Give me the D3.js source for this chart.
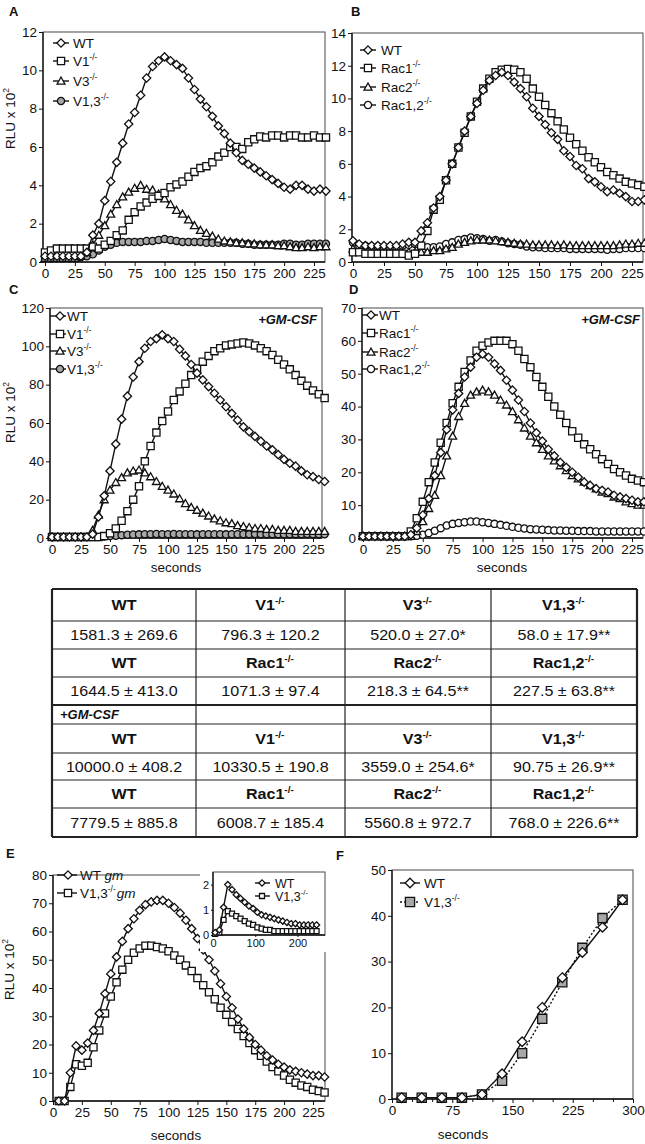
<!DOCTYPE html>
<html><head><meta charset="utf-8">
<script src="https://cdn.jsdelivr.net/npm/d3@7"></script>
<style>
body{margin:0;background:#fff}
svg{display:block}
text{font-family:Arial,"Liberation Sans",Helvetica,sans-serif;fill:#111}
</style>
</head><body>
<svg id="c" width="645" height="1144"></svg>
<script>
// ---------------- DATA ----------------
const secondsAD = [0,5,10,15,20,25,30,35,40,45,50,55,60,65,70,75,80,85,90,95,100,105,110,115,120,125,130,135,140,145,150,155,160,165,170,175,180,185,190,195,200,205,210,215,220,225,230,235];
const xTicks225 = [0,25,50,75,100,125,150,175,200,225];

const aWT  = [0.3,0.3,0.3,0.3,0.3,0.3,0.3,0.5, 1.4,2.0,3.2,4.2,5.2,6.2,7.2,7.8, 8.7,9.6,10.2,10.5,10.7,10.5,10.3,10.1, 9.6,9.0,8.5,8.1,7.6,7.1,6.7,6.2, 5.7,5.3,5.1,4.9,4.7,4.5,4.3,4.1, 3.9,3.8,4.0,4.0,3.8,3.7,3.8,3.7];
const aV1  = [0.5,0.6,0.7,0.7,0.7,0.7,0.7,0.7, 0.8,0.7,0.9,1.1,1.4,1.65,2.2,2.6, 2.9,3.1,3.3,3.45,3.6,3.9,4.05,4.2, 4.45,4.7,4.9,5.0,5.2,5.5,5.7,6.0, 6.0,5.9,6.25,6.4,6.55,6.5,6.6,6.6, 6.5,6.6,6.6,6.5,6.5,6.6,6.5,6.5];
const aV3  = [0.2,0.2,0.2,0.2,0.2,0.2,0.3,0.5, 0.9,1.4,1.9,2.5,3.0,3.4,3.65,3.85, 4.0,3.8,3.75,3.55,3.3,3.0,2.7,2.5, 2.2,1.9,1.65,1.5,1.35,1.2,1.1,1.05, 1.0,1.0,0.95,0.95,0.9,0.9,0.9,0.85, 0.85,0.8,0.75,0.75,0.8,0.75,0.8,0.8];
const aV13 = [0.2,0.2,0.2,0.2,0.2,0.2,0.25,0.3, 0.4,0.6,0.8,0.9,1.0,1.05,1.05,1.05, 1.05,1.1,1.1,1.15,1.2,1.15,1.1,1.05, 1.05,1.05,1.05,1.0,1.0,1.0,1.0,1.0, 1.0,0.95,0.95,0.9,0.9,0.9,0.9,0.9, 0.95,0.95,0.9,0.9,0.95,0.95,0.95,0.95];

const bWT   = [1.3,1.1,1.0,1.0,1.0,1.0,1.0,1.0, 1.1,1.2,1.2,1.9,2.4,3.3,4.0,5.0, 6.0,7.0,8.0,8.9,9.7,10.5,11.1,11.4, 11.6,11.4,11.0,10.6,10.1,9.4,8.9,8.4, 7.9,7.5,6.8,6.45,5.9,5.7,5.1,4.9, 4.6,4.3,4.4,4.2,4.0,3.7,3.7,3.8];
const bRac1 = [0.6,0.6,0.5,0.5,0.5,0.5,0.5,0.5, 0.5,0.4,0.5,1.0,1.9,3.2,3.8,5.0, 6.0,7.0,7.9,8.9,9.8,10.6,11.2,11.6, 11.75,11.8,11.75,11.6,11.2,10.6,10.1,9.6, 9.1,8.6,8.1,7.6,7.2,6.8,6.4,6.1, 5.8,5.5,5.3,5.1,4.9,4.8,4.7,4.6];
const bRac2 = [0.8,0.7,0.6,0.6,0.6,0.6,0.6,0.6, 0.6,0.6,0.6,0.6,0.6,0.7,0.7,0.8, 0.9,1.1,1.2,1.3,1.35,1.35,1.35,1.3, 1.25,1.2,1.15,1.1,1.1,1.05,1.05,1.05, 1.05,1.0,1.05,1.0,1.0,1.0,1.0,1.0, 1.0,1.0,1.0,1.05,1.1,1.1,1.15,1.15];
const bRac12= [1.2,1.0,1.0,0.95,0.95,0.9,0.9,0.9, 1.0,1.05,1.1,1.0,0.9,0.9,0.95,1.1, 1.2,1.35,1.4,1.5,1.45,1.4,1.3,1.35, 1.25,1.15,1.1,1.05,0.95,0.9,0.9,0.85, 0.85,0.85,0.85,0.8,0.8,0.8,0.8,0.8, 0.8,0.75,0.8,0.8,0.85,0.85,0.85,0.85];

const cWT  = [0.5,0.5,0.5,0.5,0.5,0.5,0.5,2, 11,22,35,49,62,74,84,92, 99,102.5,104,106,104,102.5,98.5,95, 90.5,86,82.5,79,75.5,72,68.5,65, 61.5,58,55.5,53,50.5,48,46,43.5, 41,39,37.5,35,33,32,30.5,29.5];
const cV1  = [0.5,0.5,0.5,0.5,0.5,0.5,0.5,0.5, 0.5,1,2.5,5,9,14,20,27, 40,48,55,61,66,72,76.5,80.5, 85,88.5,92,95,97.5,99,100.5,101, 101.5,102,101.5,100.5,99,97.5,95.5,93, 90.5,88,85,82,79.5,77,75,73];
const cV3  = [0.5,0.5,0.5,0.5,0.5,0.5,0.5,4, 12,20,25,29,31.5,34,35,35.5, 34,32,29.5,27,25,23,20.5,18, 16,14.5,13,11.5,10,9,8,7.5, 6.5,6,5.5,5,5,4.5,4.5,4, 4,4,3.5,3.5,3.5,3.5,3.5,3.5];
const cV13 = [0.5,0.5,0.5,0.5,0.5,0.5,0.5,0.5, 0.5,0.8,1,1.2,1.5,1.7,1.8,1.9, 2,2,2.1,2,2,2.1,2,2, 2,1.9,2,2,2,2,1.9,2, 2,2,2,2.1,2,2,2,2, 2,2,2,2,2.1,2,2,2];

const dWT   = [0.5,0.5,0.5,0.5,0.5,0.5,0.5,0.5, 1,3,7,12,19,26,33,39, 44,49,52,55,56,55,53,51, 48,45,42,38.5,35,32,29.5,27, 25,23,21.5,20,18.5,17,16,15, 14.5,14,13,12.5,12,11.5,11,11];
const dRac1 = [0.5,0.5,0.5,0.5,0.5,0.5,0.5,0.5, 2,6,11,17,23,29,35,41, 46,50.5,54,57,58.5,59.5,60,60, 60,59,57,54.5,52,49,46,43, 40,37.5,35,32.5,30.5,28.5,27,25.5, 24,22.5,21,20,19,18,17.5,17];
const dRac2 = [0.5,0.5,0.5,0.5,0.5,0.5,0.5,0.5, 0.5,2,5,9,13,19,25,31, 37,41,43.5,44.5,45,44.5,43.5,42, 40.5,38.5,36,33.5,31,29,27,25, 23.5,22,20.5,19,18,17,16,15, 14,13.5,12.5,12,11,10.5,10,10];
const dRac12= [0.5,0.5,0.5,0.5,0.5,0.5,0.5,0.5, 0.5,0.7,1,1.5,2.2,3,3.8,4.3, 4.6,4.8,5,5,4.8,4.6,4.3,4, 3.7,3.4,3.1,2.9,2.7,2.6,2.5,2.4, 2.3,2.3,2.2,2.2,2.1,2.1,2.1,2, 2,2,2,2,2,2,2,2];

const secondsE = [5,10,15,20,25,30,35,40,45,50,55,60,65,70,75,80,85,90,95,100,105,110,115,120,125,130,135,140,145,150,155,160,165,170,175,180,185,190,195,200,205,210,215,220,225,230,235];
const eWTgm  = [0,0,10,19.5,18,20.5,25,31, 38,45,51,56.5,61,64.5,67.5,69.5, 70.5,71,71,70,68.5,66.5,64,61, 57.5,53.5,50,46,41.5,37,33,29, 25.5,22.5,20,18,16,14.5,13,12, 11,10.5,10,9.5,9,9,8.5];
const eV13gm = [0,0,5,13,12.5,13.5,19,25, 31,37,42,46.5,50,52.5,54,55, 55,54.5,54,53,51.5,50,48,46, 43.5,41,38.5,36,33,30.5,28,25.5, 23,20.5,18,16,14,12,10.5,9, 7.5,6.5,5.5,5,4,3.5,3];

const secondsInset = [5,15,25,35,45,55,65,75,85,95,105,115,125,135,145,155,165,175,185,195,205,215,225,235,245];
const insetWT  = [0.1,0.2,1.1,2.0,1.8,1.6,1.45,1.3,1.15,1.05,0.9,0.8,0.75,0.7,0.65,0.6,0.55,0.5,0.45,0.45,0.4,0.4,0.4,0.4,0.4];
const insetV13 = [0.05,0.1,0.6,0.95,0.85,0.75,0.65,0.55,0.45,0.4,0.3,0.25,0.2,0.2,0.15,0.15,0.15,0.15,0.15,0.15,0.15,0.15,0.15,0.15,0.15];

const secondsF = [12,37,62,87,112,137,162,187,212,237,262,287];
const fWT  = [0.3,0.3,0.3,0.3,1.0,5.5,12.5,20,26.5,32,37.5,43.5];
const fV13 = [0.3,0.3,0.3,0.3,1.0,4,10,17.5,25.5,33,39.5,43.5];

const tableHeadV   = ["WT","V1^-/-","V3^-/-","V1,3^-/-"];
const tableHeadRac = ["WT","Rac1^-/-","Rac2^-/-","Rac1,2^-/-"];
const restV    = ["1581.3 ± 269.6","796.3 ± 120.2","520.0 ± 27.0*","58.0 ± 17.9**"];
const restRac  = ["1644.5 ± 413.0","1071.3 ± 97.4","218.3 ± 64.5**","227.5 ± 63.8**"];
const gmV      = ["10000.0 ± 408.2","10330.5 ± 190.8","3559.0 ± 254.6*","90.75 ± 26.9**"];
const gmRac    = ["7779.5 ± 885.8","6008.7 ± 185.4","5560.8 ± 972.7","768.0 ± 226.6**"];

// ---------------- DRAWING ----------------
const svg = d3.select("#c");
const FONT = 'Arial,"Liberation Sans",Helvetica,sans-serif';
const R = 3.6;
const shapes = {
  diamond: r => `M0,${-r*1.15}L${r*1.15},0L0,${r*1.15}L${-r*1.15},0Z`,
  square: r => `M${-r},${-r}H${r}V${r}H${-r}Z`,
  triangle: r => `M0,${-r*1.1}L${r*1.1},${r*0.85}L${-r*1.1},${r*0.85}Z`,
  circle: r => `M${r},0A${r},${r} 0 1,1 ${-r},0A${r},${r} 0 1,1 ${r},0Z`
};

function rich(textSel, label, fs){
  const parts = label.split("|");
  parts.forEach(p=>{
    let italic = false;
    if(p.startsWith("_")){ italic = true; p = p.slice(1); }
    const [base, sup] = p.split("^");
    if(base){ const t = textSel.append("tspan").text(base); if(italic) t.attr("font-style","italic"); }
    if(sup){
      textSel.append("tspan").attr("font-size", fs*0.62).attr("dy", -fs*0.42).text(sup);
      textSel.append("tspan").attr("font-size", fs).attr("dy", fs*0.42).text("\u200A");
    }
  });
}

function drawSeries(g, x, y, xs, ys, shape, fill, r, dash){
  const pts = xs.map((v,i)=>[x(v), y(ys[i])]);
  g.append("path").attr("d", d3.line()(pts)).attr("fill","none").attr("stroke","#111")
    .attr("stroke-width",1.4).attr("stroke-dasharray", dash||null);
  g.selectAll(null).data(pts).enter().append("path")
    .attr("transform", d=>`translate(${d[0]},${d[1]})`)
    .attr("d", shapes[shape](r)).attr("fill", fill).attr("stroke","#111").attr("stroke-width",1.3);
}

function panel(cfg){
  const g = svg.append("g");
  const x = d3.scaleLinear().domain(cfg.xd).range(cfg.xr);
  const y = d3.scaleLinear().domain([0, cfg.ymax]).range([cfg.bottom, cfg.top]);
  const fs = cfg.fs || 13.5;
  g.append("rect").attr("x",cfg.left).attr("y",cfg.top).attr("width",cfg.right-cfg.left)
    .attr("height",cfg.bottom-cfg.top).attr("fill","none").attr("stroke","#666").attr("stroke-width",1.2);
  const ya = g.append("g").attr("transform",`translate(${cfg.left},0)`)
    .call(d3.axisLeft(y).tickValues(cfg.yticks).tickSize(cfg.tick||4).tickPadding(2).tickFormat(d3.format("d")));
  ya.select(".domain").remove();
  ya.selectAll("line").attr("stroke","#111");
  ya.selectAll("text").attr("font-size",fs).attr("font-family",FONT).attr("fill","#111");
  const xa = g.append("g").attr("transform",`translate(0,${cfg.bottom})`)
    .call(d3.axisBottom(x).tickValues(cfg.xticks).tickSize(cfg.tick||4).tickPadding(2).tickFormat(d3.format("d")));
  xa.select(".domain").remove();
  xa.selectAll("line").attr("stroke","#111");
  xa.selectAll("text").attr("font-size",fs).attr("font-family",FONT).attr("fill","#111");
  if(cfg.minorX){
    const mx = g.append("g").attr("transform",`translate(0,${cfg.bottom})`)
      .call(d3.axisBottom(x).tickValues(cfg.minorX).tickSize(3).tickFormat(""));
    mx.select(".domain").remove(); mx.selectAll("line").attr("stroke","#111");
  }
  g.append("line").attr("x1",cfg.left).attr("x2",cfg.left).attr("y1",cfg.top).attr("y2",cfg.bottom).attr("stroke","#111").attr("stroke-width",1.3);
  g.append("line").attr("x1",cfg.left).attr("x2",cfg.right).attr("y1",cfg.bottom).attr("y2",cfg.bottom).attr("stroke","#111").attr("stroke-width",1.3);
  cfg.series.slice().reverse().forEach(s=> drawSeries(g, x, y, cfg.xs, s.v, s.shape, s.fill, s.r||R, s.dash));
  if(cfg.legend){
    const L = cfg.legend;
    const lfs = L.fs||fs;
    cfg.series.forEach((s,i)=>{
      const yy = L.y[i];
      g.append("line").attr("x1",L.x1).attr("x2",L.x2).attr("y1",yy).attr("y2",yy).attr("stroke","#111").attr("stroke-width",1.4).attr("stroke-dasharray", s.dash||null);
      g.append("path").attr("transform",`translate(${L.mx},${yy})`).attr("d",shapes[s.shape](s.r||R))
        .attr("fill",s.fill).attr("stroke","#111").attr("stroke-width",1.3);
      const t = g.append("text").attr("x",L.tx).attr("y",yy+lfs*0.36).attr("font-size",lfs);
      rich(t, s.label, lfs);
    });
  }
  if(cfg.gm){
    g.append("text").attr("x",cfg.gm[0]).attr("y",cfg.gm[1]).attr("text-anchor","end")
      .attr("font-size",13).attr("font-weight","bold").attr("font-style","italic").text("+GM-CSF");
  }
  if(cfg.ylabel){
    const t = g.append("text").attr("transform",`translate(${cfg.ylabel[0]},${cfg.ylabel[1]}) rotate(-90)`)
      .attr("text-anchor","middle").attr("font-size",13.5);
    rich(t, "RLU x 10^2", 13.5);
  }
  if(cfg.xlabel){
    g.append("text").attr("x",cfg.xlabel[0]).attr("y",cfg.xlabel[1]).attr("text-anchor","middle")
      .attr("font-size",13.5).text("seconds");
  }
  if(cfg.letter){
    g.append("text").attr("x",cfg.letter[0]).attr("y",cfg.letter[1]).attr("font-size",13)
      .attr("font-weight","bold").text(cfg.letter[2]);
  }
  return g;
}

const GRAY = "#a8a8a8";

// Panel A
panel({left:43,right:325,top:32,bottom:262,xd:[0,225],xr:[45,314],ymax:12,yticks:[0,2,4,6,8,10,12],
  xticks:xTicks225, xs:secondsAD, letter:[9,16,"A"], ylabel:[15,118],
  series:[{v:aWT,shape:"diamond",fill:"#fff",label:"WT"},
          {v:aV1,shape:"square",fill:"#fff",label:"V1^-/-"},
          {v:aV3,shape:"triangle",fill:"#fff",label:"V3^-/-"},
          {v:aV13,shape:"circle",fill:GRAY,label:"V1,3^-/-"}],
  legend:{x1:53,x2:69,mx:61,tx:73,y:[43,61,81,101]}});

// Panel B
panel({left:352,right:643,top:33,bottom:262,xd:[0,225],xr:[353,632],ymax:14,yticks:[0,2,4,6,8,10,12,14],
  xticks:xTicks225, xs:secondsAD, letter:[351,16,"B"],
  series:[{v:bWT,shape:"diamond",fill:"#fff",label:"WT"},
          {v:bRac1,shape:"square",fill:"#fff",label:"Rac1^-/-"},
          {v:bRac2,shape:"triangle",fill:"#fff",label:"Rac2^-/-"},
          {v:bRac12,shape:"circle",fill:"#fff",label:"Rac1,2^-/-"}],
  legend:{x1:360,x2:376,mx:368,tx:381,y:[50,68,87,105]}});

// Panel C
panel({left:50,right:322,top:308,bottom:538,xd:[0,225],xr:[52,313],ymax:120,yticks:[0,20,40,60,80,100,120],
  xticks:xTicks225, xs:secondsAD, letter:[9,294,"C"], ylabel:[15,412], xlabel:[176,572], gm:[317,324],
  series:[{v:cWT,shape:"diamond",fill:"#fff",label:"WT"},
          {v:cV1,shape:"square",fill:"#fff",label:"V1^-/-"},
          {v:cV3,shape:"triangle",fill:"#fff",label:"V3^-/-"},
          {v:cV13,shape:"circle",fill:GRAY,label:"V1,3^-/-"}],
  legend:{x1:50,x2:66,mx:60,tx:67,y:[316,334,351,369]}});

// Panel D
panel({left:362,right:643,top:308,bottom:538,xd:[0,225],xr:[363,632],ymax:70,yticks:[0,10,20,30,40,50,60,70],
  xticks:xTicks225, xs:secondsAD, letter:[349,294,"D"], xlabel:[502,572], gm:[640,324],
  series:[{v:dWT,shape:"diamond",fill:"#fff",label:"WT"},
          {v:dRac1,shape:"square",fill:"#fff",label:"Rac1^-/-"},
          {v:dRac2,shape:"triangle",fill:"#fff",label:"Rac2^-/-"},
          {v:dRac12,shape:"circle",fill:"#fff",label:"Rac1,2^-/-"}],
  legend:{x1:362,x2:378,mx:371,tx:379,y:[315,333,352,369]}});

// Table
(function(){
  const cols = [52,196,345,491,637];
  const rows = [589,621,649,677,705,724,753,780,808,837];
  const tg = svg.append("g");
  rows.forEach((ry,i)=>{
    const thick = (i===0||i===rows.length-1||i===4);
    tg.append("line").attr("x1",cols[0]).attr("x2",cols[4]).attr("y1",ry).attr("y2",ry)
      .attr("stroke","#222").attr("stroke-width",thick?2.2:1.2);
  });
  cols.forEach((cx,i)=>{
    const thick = (i===0||i===cols.length-1);
    tg.append("line").attr("x1",cx).attr("x2",cx).attr("y1",rows[0]).attr("y2",rows[rows.length-1])
      .attr("stroke","#222").attr("stroke-width",thick?2.2:1.2);
  });
  const content = [[0,tableHeadV,true],[1,restV,false],[2,tableHeadRac,true],[3,restRac,false],
                   [5,tableHeadV,true],[6,gmV,false],[7,tableHeadRac,true],[8,gmRac,false]];
  content.forEach(([ri,arr,bold])=>{
    const cy = (rows[ri]+rows[ri+1])/2 + 5;
    arr.forEach((lab,ci)=>{
      const cx = (cols[ci]+cols[ci+1])/2;
      const t = tg.append("text").attr("transform",`translate(${cx},${cy}) scale(1.15,1)`)
        .attr("text-anchor","middle").attr("font-size",14).attr("font-weight",bold?"bold":"normal");
      rich(t, lab, 14);
    });
  });
  tg.append("text").attr("x",60).attr("y",(rows[4]+rows[5])/2+4.5).attr("font-size",13)
    .attr("font-weight","bold").attr("font-style","italic").text("+GM-CSF");
})();

// Panel E
panel({left:53,right:325,top:875,bottom:1101,xd:[0,225],xr:[53,313],ymax:80,yticks:[0,10,20,30,40,50,60,70,80],
  xticks:xTicks225, xs:secondsE, letter:[6,858,"E"], ylabel:[14,969], xlabel:[176,1140],
  series:[{v:eWTgm,shape:"diamond",fill:"#fff",label:"WT |_gm"},
          {v:eV13gm,shape:"square",fill:"#fff",label:"V1,3^-/-|_gm"}],
  legend:{x1:57,x2:77,mx:68,tx:80,y:[875,893]}});

// Inset in E
svg.append("rect").attr("x",200).attr("y",866).attr("width",127).attr("height",86).attr("fill","#fff");
panel({left:213,right:325,top:872,bottom:935,xd:[0,265],xr:[213,325],ymax:2.5,yticks:[0,1,2],
  xticks:[0,100,200], xs:secondsInset, fs:11, tick:2,
  series:[{v:insetWT,shape:"diamond",fill:"#fff",label:"WT",r:2.7},
          {v:insetV13,shape:"square",fill:"#fff",label:"V1,3^-/-",r:2.5}],
  legend:{x1:255,x2:270,mx:262,tx:275,y:[883,896],fs:12.5}});

// Panel F
panel({left:392,right:633,top:870,bottom:1099,xd:[0,300],xr:[392,633],ymax:50,yticks:[0,10,20,30,40,50],
  xticks:[0,75,150,225,300], minorX:[25,50,100,125,175,200,250,275], xs:secondsF, letter:[336,860,"F"], xlabel:[463,1139],
  series:[{v:fWT,shape:"diamond",fill:"#fff",label:"WT",r:4.2},
          {v:fV13,shape:"square",fill:GRAY,label:"V1,3^-/-",r:4.6,dash:"2,2"}],
  legend:{x1:400,x2:420,mx:410,tx:424,y:[883,902]}});
</script>
</body></html>
